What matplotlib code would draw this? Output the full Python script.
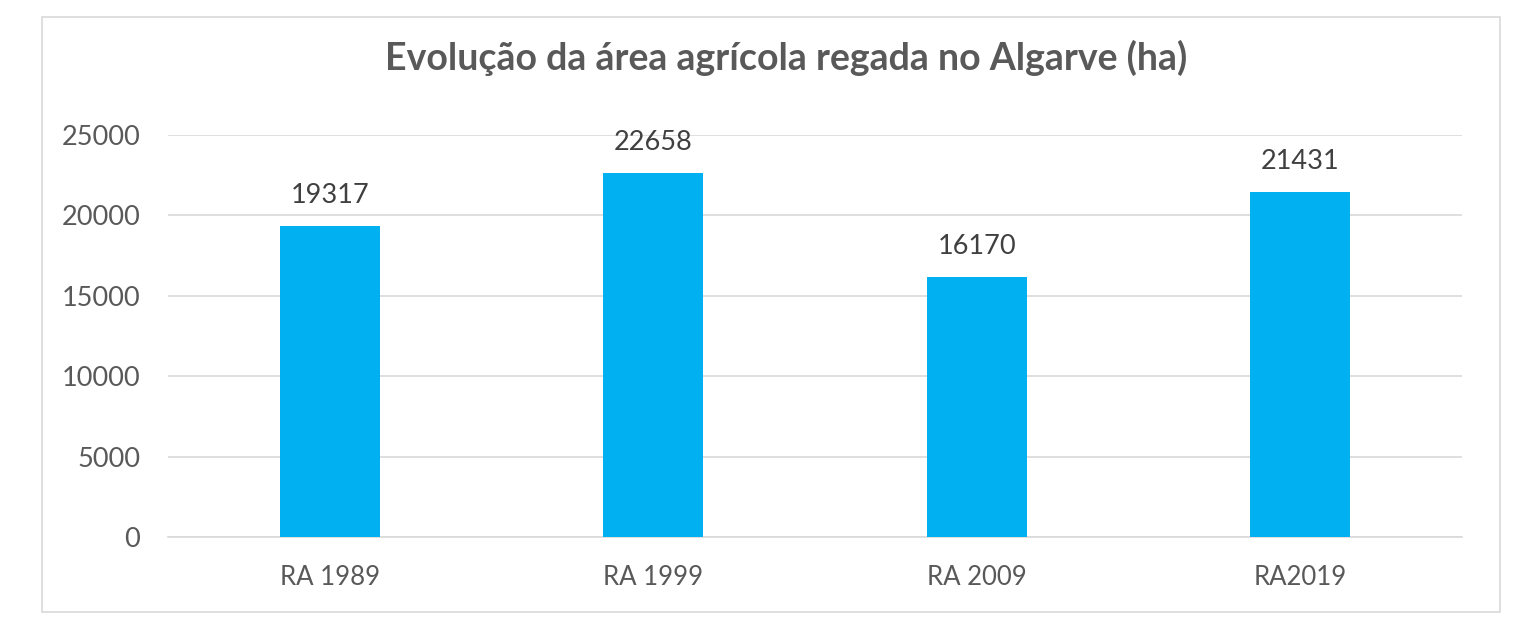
import matplotlib
matplotlib.use("Agg")
import matplotlib.pyplot as plt
from matplotlib.patches import Rectangle

categories = ["RA 1989", "RA 1999", "RA 2009", "RA2019"]
values = [19317, 22658, 16170, 21431]
yticks = [0, 5000, 10000, 15000, 20000, 25000]
title = "Evolução da área agrícola regada no Algarve (ha)"

plt.rcParams['font.family'] = ['Lato', 'DejaVu Sans']

fig = plt.figure(figsize=(15.3, 6.4), dpi=100)
fig.patches.append(Rectangle((42/1530, 28/640), 1458/1530, 595/640,
                             transform=fig.transFigure, fill=False,
                             edgecolor="#d9d9d9", linewidth=1.2))

ax = fig.add_axes([168/1530, 103/640, 1294/1530, 402/640])
x = range(len(categories))
ax.bar(x, values, width=0.31, color="#00b0f0", zorder=3)

for i, v in enumerate(values):
    ax.annotate(str(v), (i, v), xytext=(0, 13), textcoords="offset points",
                ha="center", va="bottom", fontsize=19.5, color="#404040")

ax.set_xlim(-0.5, len(categories) - 0.5)
ax.set_ylim(0, 25000)
ax.set_yticks(yticks)
ax.set_xticks(list(x))
ax.set_xticklabels(categories)
ax.tick_params(axis="y", length=0, labelsize=19.5, labelcolor="#595959", pad=20)
ax.tick_params(axis="x", length=0, labelsize=18.5, labelcolor="#595959", pad=20)
ax.grid(axis="y", color="#d9d9d9", linewidth=1.2, zorder=0)
for s in ["top", "right", "left"]:
    ax.spines[s].set_visible(False)
ax.spines["bottom"].set_color("#d9d9d9")
ax.spines["bottom"].set_linewidth(1.2)

fig.text(786/1530, 1 - 58/640, title, ha="center", va="center",
         fontsize=27, fontweight="bold", color="#595959")

fig.savefig("out.png", dpi=100)
